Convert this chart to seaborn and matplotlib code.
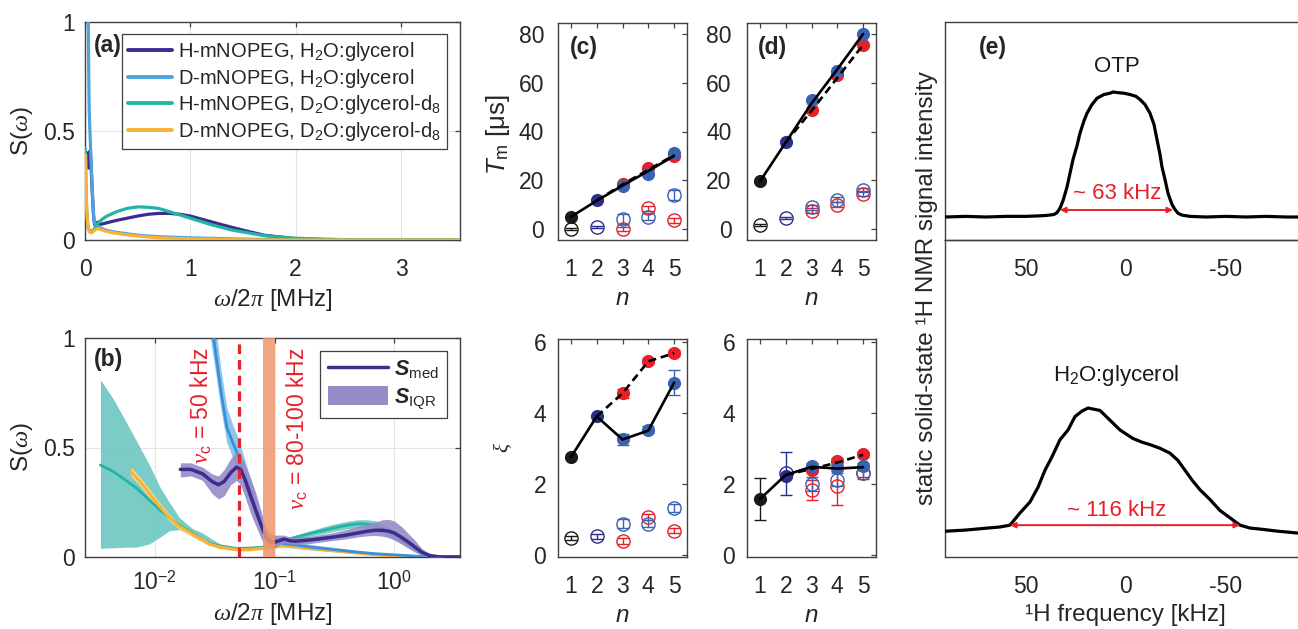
import matplotlib
matplotlib.use("Agg")
import matplotlib.pyplot as plt
import seaborn as sns
from matplotlib.lines import Line2D
from matplotlib.patches import Patch
from matplotlib.ticker import MultipleLocator, NullLocator

# ---------------- data ----------------
# (a)/(b): spectral densities S(w), frequency in MHz
f_hh = [0.0163, 0.02, 0.025, 0.03, 0.034, 0.038, 0.043, 0.048, 0.052, 0.057, 0.063, 0.07, 0.078,
        0.085, 0.092, 0.1, 0.11, 0.12, 0.135, 0.15, 0.2, 0.3, 0.4, 0.5, 0.6, 0.7, 0.8, 0.9, 1.0,
        1.15, 1.3, 1.5, 1.7, 2.0, 2.3, 2.7, 3.56]
s_hh = [0.40, 0.40, 0.38, 0.345, 0.33, 0.345, 0.385, 0.41, 0.40, 0.35, 0.28, 0.21, 0.14,
        0.09, 0.07, 0.068, 0.075, 0.082, 0.074, 0.072, 0.078, 0.09, 0.10, 0.11, 0.118, 0.122, 0.122, 0.118, 0.11,
        0.09, 0.07, 0.045, 0.022, 0.006, 0.001, 0.0, 0.0]
s_hh_lo = [0.365, 0.37, 0.35, 0.29, 0.265, 0.28, 0.33, 0.35, 0.33, 0.27, 0.20, 0.14, 0.08,
           0.05, 0.04, 0.04, 0.055, 0.065, 0.06, 0.058, 0.062, 0.075, 0.083, 0.092, 0.097, 0.098, 0.095, 0.088, 0.078,
           0.06, 0.042, 0.022, 0.008, 0.001, 0.0, 0.0, 0.0]
s_hh_hi = [0.43, 0.43, 0.41, 0.38, 0.37, 0.40, 0.45, 0.48, 0.47, 0.42, 0.36, 0.29, 0.20,
           0.13, 0.11, 0.10, 0.10, 0.10, 0.09, 0.09, 0.095, 0.11, 0.125, 0.14, 0.15, 0.16, 0.17, 0.172, 0.165,
           0.14, 0.11, 0.075, 0.04, 0.012, 0.003, 0.0, 0.0]

f_dh = [0.02, 0.025, 0.031, 0.036, 0.04, 0.045, 0.05, 0.056, 0.062, 0.067, 0.074, 0.081, 0.09, 0.1,
        0.12, 0.15, 0.2, 0.3, 0.5, 0.7, 1.0, 1.5, 2.0, 2.5, 3.56]
s_dh = [1.9, 1.35, 1.0, 0.74, 0.59, 0.52, 0.46, 0.38, 0.31, 0.26, 0.18, 0.11, 0.08, 0.07,
        0.06, 0.055, 0.045, 0.035, 0.022, 0.015, 0.01, 0.004, 0.001, 0.0, 0.0]
s_dh_lo = [1.75, 1.22, 0.9, 0.66, 0.52, 0.45, 0.39, 0.32, 0.26, 0.21, 0.14, 0.08, 0.055, 0.05,
           0.045, 0.04, 0.032, 0.025, 0.015, 0.01, 0.006, 0.002, 0.0, 0.0, 0.0]
s_dh_hi = [2.05, 1.5, 1.12, 0.84, 0.68, 0.6, 0.54, 0.45, 0.37, 0.31, 0.22, 0.14, 0.105, 0.09,
           0.08, 0.07, 0.058, 0.045, 0.03, 0.02, 0.014, 0.006, 0.002, 0.0, 0.0]

f_hd = [0.0035, 0.0045, 0.0057, 0.007, 0.009, 0.011, 0.0132, 0.016, 0.0206, 0.025, 0.0284, 0.035,
        0.047, 0.06, 0.08, 0.1, 0.12, 0.15, 0.2, 0.3, 0.4, 0.5, 0.6, 0.7, 0.8, 1.0, 1.2, 1.4,
        1.7, 2.0, 2.5, 3.56]
s_hd = [0.42, 0.39, 0.35, 0.315, 0.26, 0.215, 0.18, 0.145, 0.11, 0.08, 0.064, 0.05,
        0.04, 0.04, 0.045, 0.06, 0.075, 0.09, 0.108, 0.13, 0.145, 0.152, 0.15, 0.145, 0.13, 0.1, 0.07, 0.045,
        0.02, 0.008, 0.001, 0.0]
s_hd_lo = [0.04, 0.042, 0.045, 0.045, 0.06, 0.09, 0.12, 0.125, 0.095, 0.068, 0.055, 0.044,
           0.035, 0.035, 0.04, 0.052, 0.065, 0.08, 0.095, 0.115, 0.128, 0.134, 0.13, 0.123, 0.108, 0.08, 0.055, 0.033,
           0.013, 0.004, 0.0, 0.0]
s_hd_hi = [0.81, 0.72, 0.62, 0.53, 0.42, 0.32, 0.25, 0.18, 0.13, 0.11, 0.09, 0.06,
           0.046, 0.046, 0.052, 0.068, 0.085, 0.1, 0.12, 0.148, 0.162, 0.17, 0.17, 0.165, 0.15, 0.12, 0.085, 0.058,
           0.028, 0.012, 0.002, 0.0]

f_dd = [0.0063, 0.0075, 0.009, 0.011, 0.0132, 0.016, 0.0206, 0.025, 0.0284, 0.035, 0.047, 0.06, 0.08,
        0.1, 0.12, 0.15, 0.2, 0.3, 0.5, 0.7, 1.0, 1.5, 2.0, 3.56]
s_dd = [0.39, 0.345, 0.29, 0.23, 0.18, 0.14, 0.105, 0.078, 0.06, 0.045, 0.035, 0.033, 0.04,
        0.048, 0.052, 0.048, 0.04, 0.03, 0.018, 0.01, 0.005, 0.001, 0.0, 0.0]
s_dd_lo = [0.37, 0.325, 0.27, 0.213, 0.165, 0.127, 0.093, 0.068, 0.051, 0.037, 0.028, 0.027, 0.033,
           0.04, 0.044, 0.04, 0.033, 0.024, 0.013, 0.006, 0.002, 0.0, 0.0, 0.0]
s_dd_hi = [0.41, 0.365, 0.31, 0.247, 0.195, 0.153, 0.117, 0.088, 0.069, 0.053, 0.042, 0.039, 0.047,
           0.056, 0.06, 0.056, 0.047, 0.036, 0.023, 0.014, 0.008, 0.003, 0.001, 0.0]

legend_a = ["H-mNOPEG, H$_2$O:glycerol", "D-mNOPEG, H$_2$O:glycerol",
            "H-mNOPEG, D$_2$O:glycerol-d$_8$", "D-mNOPEG, D$_2$O:glycerol-d$_8$"]

nu_c_line = 0.05          # MHz
nu_c_band = [0.08, 0.1]   # MHz

# (c)/(d): n = 1 (black), n = 2 (navy), n = 3..5 (red / blue)
n_all = [1, 2, 3, 4, 5]
n_rb = [3, 4, 5]
n_dash = [2, 3, 4, 5]

# Tm [us], panel (c)
tmc_fill = {"black": 5.0, "navy": 12.0}
tmc_fill_red = [18.5, 25.0, 30.0]
tmc_fill_blue = [17.5, 22.5, 31.0]
tmc_open = {"black": (0.0, 0.5), "navy": (1.0, 0.4)}
tmc_open_red = [0.0, 8.5, 3.5]
tmc_open_red_err = [0.7, 1.0, 1.0]
tmc_open_blue = [4.0, 5.0, 14.0]
tmc_open_blue_err = [2.0, 1.5, 2.0]
tmc_solid = [5.0, 11.6, 17.8, 23.8, 30.0]
tmc_dashed = [11.6, 18.3, 24.3, 30.3]

# Tm [us], panel (d)
tmd_fill = {"black": 19.5, "navy": 35.5}
tmd_fill_red = [49.0, 63.0, 75.5]
tmd_fill_blue = [53.0, 65.0, 80.0]
tmd_open = {"black": (1.5, 0.4), "navy": (4.5, 0.5)}
tmd_open_red = [7.5, 10.0, 14.5]
tmd_open_red_err = [1.0, 1.0, 1.0]
tmd_open_blue = [9.0, 12.0, 16.0]
tmd_open_blue_err = [1.0, 1.0, 1.0]
tmd_solid = [19.5, 35.5, 51.5, 65.5, 80.0]
tmd_dashed = [35.5, 48.5, 62.0, 75.5]

# xi, panel (c)
xic_fill = {"black": 2.75, "navy": 3.9}
xic_fill_red = [4.55, 5.45, 5.68]
xic_fill_red_err = [0.12, 0.08, 0.08]
xic_fill_blue = [3.25, 3.52, 4.85]
xic_fill_blue_err = [0.15, 0.1, 0.35]
xic_open = {"black": (0.48, 0.06), "navy": (0.52, 0.06)}
xic_open_red = [0.4, 1.07, 0.68]
xic_open_red_err = [0.08, 0.08, 0.07]
xic_open_blue = [0.88, 0.88, 1.32]
xic_open_blue_err = [0.12, 0.1, 0.1]
xic_solid = [2.75, 3.9, 3.25, 3.5, 4.85]
xic_dashed = [3.9, 4.55, 5.45, 5.68]

# xi, panel (d)
xid_fill = {"black": 1.57, "navy": 2.22}
xid_fill_err = {"black": 0.6, "navy": 0.05}
xid_fill_red = [2.4, 2.65, 2.83]
xid_fill_red_err = [0.08, 0.08, 0.08]
xid_fill_blue = [2.5, 2.45, 2.5]
xid_fill_blue_err = [0.08, 0.08, 0.1]
xid_open = {"navy": (2.3, 0.6)}
xid_open_red = [1.82, 1.95, 2.3]
xid_open_red_err = [0.28, 0.55, 0.1]
xid_open_blue = [2.0, 2.12, 2.3]
xid_open_blue_err = [0.2, 0.18, 0.15]
xid_solid = [1.57, 2.25, 2.48, 2.43, 2.47]
xid_dashed = [2.25, 2.42, 2.6, 2.82]

# (e): 1H NMR spectra, frequency in kHz, intensity normalised to peak
otp_f = [90.5, 80, 70, 60, 50, 45, 40, 36, 34.5, 33, 31.5, 29.5, 28, 26.5, 24.5, 23, 21, 19.5, 17,
         14.5, 11, 8, 6.5, 4, 1, -2, -5, -7, -9.5, -12, -14, -15.5, -17, -18, -19.5, -21, -23,
         -24.5, -26, -28, -32, -40, -50, -60, -70, -80, -86]
otp_i = [0.0, 0.005, 0.0, 0.005, 0.005, 0.008, 0.012, 0.02, 0.035, 0.07, 0.13, 0.24, 0.35, 0.46, 0.57,
         0.67, 0.77, 0.83, 0.90, 0.95, 0.98, 0.99, 1.0, 0.995, 0.99, 0.98, 0.965, 0.94, 0.9, 0.83,
         0.74, 0.62, 0.5, 0.4, 0.3, 0.19, 0.1, 0.06, 0.03, 0.015, 0.005, 0.0, 0.005, 0.0, 0.005, 0.0, 0.0]
gly_f = [90.5, 80, 70, 63, 58, 53, 48, 44, 40.5, 37, 33, 29, 25.5, 22, 19, 16, 13, 8, 3, -3.5, -8,
         -12, -17, -22, -26, -29.5, -33, -37, -42, -47, -52, -57, -62, -67, -75, -86]
gly_i = [-0.01, 0.0, 0.015, 0.025, 0.04, 0.14, 0.23, 0.35, 0.49, 0.6, 0.74, 0.82, 0.93, 0.975, 1.0,
         0.99, 0.98, 0.9, 0.82, 0.75, 0.72, 0.70, 0.67, 0.63, 0.57, 0.49, 0.41, 0.33, 0.25, 0.16,
         0.1, 0.04, 0.016, 0.008, -0.008, -0.025]
otp_arrow = [33.0, -23.5]
gly_arrow = [58.0, -57.0]

# ---------------- style ----------------
sns.set_theme(style="white")
plt.rcParams["font.family"] = ["Liberation Sans", "DejaVu Sans"]
plt.rcParams["axes.unicode_minus"] = False
plt.rcParams["mathtext.fontset"] = "custom"
plt.rcParams["mathtext.rm"] = "Liberation Sans"
plt.rcParams["mathtext.sf"] = "Liberation Sans"
plt.rcParams["mathtext.it"] = "Liberation Serif:italic"
plt.rcParams["mathtext.bf"] = "Liberation Sans:italic:bold"
plt.rcParams["mathtext.cal"] = "Liberation Sans:italic"

C_HH, C_DH, C_HD, C_DD = "#3B2C8E", "#4DA3E0", "#22B5A5", "#F9B334"
RED, BLUE, NAVY, BLACK = "#E62129", "#3A62B2", "#2B2D8C", "#1A1A1A"
SPINE = "#404040"
TXT = "#262626"
TICK = 16.5
LAB = 17.5

W, H = 1298, 629
fig = plt.figure(figsize=(W / 100, H / 100), dpi=100)


def pos(l, r, t, b):
    return [l / W, 1 - b / H, (r - l) / W, (b - t) / H]


def style(ax, ypad=7, xpad=13):
    for s in ax.spines.values():
        s.set_color(SPINE)
        s.set_linewidth(1.0)
    ax.tick_params(direction="in", length=3.6, width=0.9, colors=SPINE, labelcolor=TXT,
                   labelsize=TICK, top=True, right=True)
    ax.tick_params(axis="y", pad=ypad)
    ax.tick_params(axis="x", pad=xpad)


def line(ax, x, y, color, lw, dashed=False, z=3):
    sns.lineplot(x=x, y=y, ax=ax, color=color, lw=lw, estimator=None, sort=False,
                 legend=False, zorder=z)
    ln = ax.lines[-1]
    if dashed:
        ln.set_dashes((3.0, 1.8))
    return ln


# ---------------- (a) ----------------
axa = fig.add_axes(pos(85, 460, 22, 240))
style(axa)
axa.grid(True, color="#E4E4E4", lw=0.8)
axa.set_axisbelow(True)
for f, s, c in [(f_hh, s_hh, C_HH), (f_dh, s_dh, C_DH), (f_hd, s_hd, C_HD), (f_dd, s_dd, C_DD)]:
    line(axa, f, s, c, 2.3)
axa.set_xlim(0, 3.56)
axa.set_ylim(0, 1)
axa.set_xticks([0, 1, 2, 3])
axa.set_yticks([0, 0.5, 1])
axa.set_yticklabels(["0", "0.5", "1"])
axa.set_xlabel(r"$\omega/2\pi$ [MHz]", fontsize=LAB, color=TXT, va="top")
axa.xaxis.set_label_coords(0.5, -0.215)
axa.set_ylabel(r"S($\omega$)", fontsize=LAB, color=TXT)
axa.yaxis.set_label_coords(-0.133, 0.5)
handles = [Line2D([], [], color=c, lw=2.8) for c in [C_HH, C_DH, C_HD, C_DD]]
leg = axa.legend(handles, legend_a, loc="upper right", bbox_to_anchor=(0.965, 0.945),
                 borderaxespad=0, fontsize=14.5, frameon=True, fancybox=False, framealpha=1,
                 edgecolor=SPINE, handlelength=2.2, handletextpad=0.3, labelspacing=0.18,
                 borderpad=0.3)
leg.get_frame().set_linewidth(0.9)
for t in leg.get_texts():
    t.set_color(TXT)
axa.text(0.024, 0.894, "(a)", transform=axa.transAxes, fontsize=16.5, fontweight="bold",
         ha="left", va="center", color=TXT)

# ---------------- (b) ----------------
axb = fig.add_axes(pos(85, 460, 338, 557))
style(axb, xpad=10)
axb.set_xscale("log")
axb.grid(True, color="#E4E4E4", lw=0.8)
axb.set_axisbelow(True)
axb.fill_between(f_hd, s_hd_lo, s_hd_hi, color="#74C9C3", alpha=0.95, lw=0, zorder=2)
line(axb, f_hd, s_hd, C_HD, 2.0)
axb.fill_between(f_dd, s_dd_lo, s_dd_hi, color="#FCDC92", lw=0, zorder=2)
line(axb, f_dd, s_dd, C_DD, 2.2)
axb.fill_between(f_dh, s_dh_lo, s_dh_hi, color="#8CC6EE", lw=0, zorder=2)
line(axb, f_dh, s_dh, "#3C8FD4", 2.0)
axb.fill_between(f_hh, s_hh_lo, s_hh_hi, color="#968CC8", alpha=0.9, lw=0, zorder=3)
line(axb, f_hh, s_hh, C_HH, 2.5, z=4)
axb.axvline(nu_c_line, color=RED, lw=2.3, dashes=(3.0, 1.9), zorder=5)
axb.axvspan(nu_c_band[0], nu_c_band[1], color="#F2956B", alpha=0.85, lw=0, zorder=5)
axb.set_xlim(0.0026, 3.56)
axb.set_ylim(0, 1)
axb.set_xticks([0.01, 0.1, 1])
axb.set_xticklabels([r"$10^{-2}$", r"$10^{-1}$", r"$10^{0}$"])
axb.xaxis.set_minor_locator(NullLocator())
axb.set_yticks([0, 0.5, 1])
axb.set_yticklabels(["0", "0.5", "1"])
axb.set_xlabel(r"$\omega/2\pi$ [MHz]", fontsize=LAB, color=TXT, va="top")
axb.xaxis.set_label_coords(0.5, -0.2)
axb.set_ylabel(r"S($\omega$)", fontsize=LAB, color=TXT)
axb.yaxis.set_label_coords(-0.133, 0.5)
axb.text(0.0245, 0.69, r"$\nu_\mathsf{c}$ = 50 kHz", rotation=90, color=RED, fontsize=16.5,
         ha="center", va="center", zorder=6)
axb.text(0.156, 0.585, r"$\nu_\mathsf{c}$ = 80-100 kHz", rotation=90, color=RED, fontsize=16.5,
         ha="center", va="center", zorder=6)
hb = [Line2D([], [], color=C_HH, lw=2.5), Patch(facecolor="#968CC8", edgecolor="none")]
legb = axb.legend(hb, [r"$\mathbf{S}_{\mathrm{med}}$", r"$\mathbf{S}_{\mathrm{IQR}}$"],
                  loc="upper right", bbox_to_anchor=(0.965, 0.941), borderaxespad=0,
                  fontsize=15.5, frameon=True, fancybox=False, framealpha=1, edgecolor=SPINE,
                  handlelength=2.8, handleheight=1.0, handletextpad=0.3, labelspacing=0.25,
                  borderpad=0.35)
legb.get_frame().set_linewidth(0.9)
legb.set_zorder(10)
axb.text(0.024, 0.90, "(b)", transform=axb.transAxes, fontsize=16.5, fontweight="bold",
         ha="left", va="center", color=TXT)


# ---------------- (c)/(d) ----------------
def dots(ax, fill, fill_red, fill_blue, opn, open_red, open_red_err, open_blue, open_blue_err,
         solid, dashed, fill_err=None, fill_red_err=None, fill_blue_err=None):
    ms = 9.5
    cap = 4.3
    for key, col, x in [("black", BLACK, 1), ("navy", NAVY, 2)]:
        if key in opn:
            y, e = opn[key]
            ax.errorbar([x], [y], yerr=[e], fmt="o", mfc="none", mec=col, ms=ms, mew=1.0,
                        ecolor=col, elinewidth=1.0, capsize=cap, capthick=1.0, zorder=3)
    ax.errorbar(n_rb, open_red, yerr=open_red_err, fmt="o", mfc="none", mec=RED, ms=ms, mew=1.0,
                ecolor=RED, elinewidth=1.0, capsize=cap, capthick=1.0, zorder=3)
    ax.errorbar(n_rb, open_blue, yerr=open_blue_err, fmt="o", mfc="none", mec=BLUE, ms=ms, mew=1.0,
                ecolor=BLUE, elinewidth=1.0, capsize=cap, capthick=1.0, zorder=3)
    if fill_red_err is not None:
        ax.errorbar(n_rb, fill_red, yerr=fill_red_err, fmt="none", ecolor=RED, elinewidth=1.0,
                    capsize=cap, capthick=1.0, zorder=4)
    sns.scatterplot(x=n_rb, y=fill_red, ax=ax, color=RED, s=90, linewidth=0, zorder=4, legend=False)
    if fill_blue_err is not None:
        ax.errorbar(n_rb, fill_blue, yerr=fill_blue_err, fmt="none", ecolor=BLUE, elinewidth=1.0,
                    capsize=cap, capthick=1.0, zorder=5)
    sns.scatterplot(x=n_rb, y=fill_blue, ax=ax, color=BLUE, s=90, linewidth=0, zorder=5, legend=False)
    for key, col, x in [("black", BLACK, 1), ("navy", NAVY, 2)]:
        if fill_err is not None and key in fill_err:
            ax.errorbar([x], [fill[key]], yerr=[fill_err[key]], fmt="none", ecolor=col,
                        elinewidth=1.0, capsize=cap, capthick=1.0, zorder=5)
        sns.scatterplot(x=[x], y=[fill[key]], ax=ax, color=col, s=90, linewidth=0, zorder=5,
                        legend=False)
    line(ax, n_all, solid, "black", 1.9, z=6)
    line(ax, n_dash, dashed, "black", 1.9, dashed=True, z=6)
    ax.set_xlim(0.5, 5.5)
    ax.set_xticks(n_all)
    ax.set_xlabel("n", fontsize=LAB, style="italic", color=TXT, va="top")


axc1 = fig.add_axes(pos(558, 687, 23, 240))
style(axc1, ypad=10)
dots(axc1, tmc_fill, tmc_fill_red, tmc_fill_blue, tmc_open, tmc_open_red, tmc_open_red_err,
     tmc_open_blue, tmc_open_blue_err, tmc_solid, tmc_dashed)
axc1.set_ylim(-4.5, 84.5)
axc1.set_yticks([0, 20, 40, 60, 80])
axc1.xaxis.set_label_coords(0.5, -0.215)
axc1.set_ylabel(r"$\mathcal{T}_{\mathrm{m}}$ [μs]", fontsize=LAB + 1, color=TXT)
axc1.yaxis.set_label_coords(-0.36, 0.484)
axc1.text(0.093, 0.889, "(c)", transform=axc1.transAxes, fontsize=16.5, fontweight="bold",
          ha="left", va="center", color=TXT)

axd1 = fig.add_axes(pos(747, 876, 23, 240))
style(axd1, ypad=11)
dots(axd1, tmd_fill, tmd_fill_red, tmd_fill_blue, tmd_open, tmd_open_red, tmd_open_red_err,
     tmd_open_blue, tmd_open_blue_err, tmd_solid, tmd_dashed)
axd1.set_ylim(-4.5, 84.5)
axd1.set_yticks([0, 20, 40, 60, 80])
axd1.xaxis.set_label_coords(0.5, -0.215)
axd1.text(0.085, 0.889, "(d)", transform=axd1.transAxes, fontsize=16.5, fontweight="bold",
          ha="left", va="center", color=TXT)

axc2 = fig.add_axes(pos(558, 687, 339, 557))
style(axc2, ypad=8.5)
dots(axc2, xic_fill, xic_fill_red, xic_fill_blue, xic_open, xic_open_red, xic_open_red_err,
     xic_open_blue, xic_open_blue_err, xic_solid, xic_dashed,
     fill_red_err=xic_fill_red_err, fill_blue_err=xic_fill_blue_err)
axc2.set_ylim(-0.06, 6.08)
axc2.set_yticks([0, 2, 4, 6])
axc2.xaxis.set_label_coords(0.5, -0.215)
axc2.set_ylabel(r"$\xi$", fontsize=15, color=TXT)
axc2.yaxis.set_label_coords(-0.34, 0.5)

axd2 = fig.add_axes(pos(747, 876, 339, 557))
style(axd2, ypad=8.5)
dots(axd2, xid_fill, xid_fill_red, xid_fill_blue, xid_open, xid_open_red, xid_open_red_err,
     xid_open_blue, xid_open_blue_err, xid_solid, xid_dashed, fill_err=xid_fill_err,
     fill_red_err=xid_fill_red_err, fill_blue_err=xid_fill_blue_err)
axd2.set_ylim(-0.06, 6.08)
axd2.set_yticks([0, 2, 4, 6])
axd2.xaxis.set_label_coords(0.5, -0.215)

# ---------------- (e) ----------------
axe2 = fig.add_axes(pos(945, 1298, 240, 557))
axe1 = fig.add_axes(pos(945, 1298, 22, 240))
for ax, f, i, ylim in [(axe1, otp_f, otp_i, (-0.184, 1.56)), (axe2, gly_f, gly_i, (-0.221, 2.377))]:
    ax.patch.set_alpha(0)
    for s in ax.spines.values():
        s.set_color(SPINE)
        s.set_linewidth(1.0)
    ax.spines["right"].set_visible(False)
    line(ax, f, i, "black", 2.3)
    ax.set_xlim(90.5, -86)
    ax.set_ylim(*ylim)
    ax.set_xticks([50, 0, -50])
    ax.xaxis.set_minor_locator(MultipleLocator(10))
    ax.tick_params(axis="x", which="major", direction="in", length=4.5, width=0.9, colors=SPINE,
                   labelcolor=TXT, labelsize=TICK, pad=13, top=False)
    ax.tick_params(axis="x", which="minor", direction="in", length=3.0, width=0.9, colors=SPINE,
                   top=False)
    ax.tick_params(axis="y", left=False, right=False, labelleft=False)

axe1.annotate("", xy=(otp_arrow[0], 0.056), xytext=(otp_arrow[1], 0.056),
              arrowprops=dict(arrowstyle="<|-|>", color=RED, lw=1.4, mutation_scale=8,
                              shrinkA=0, shrinkB=0))
axe1.text(4.5, 0.19, "~ 63 kHz", color=RED, fontsize=16, ha="center", va="center")
axe1.text(4.5, 1.2, "OTP", color=BLACK, fontsize=16, ha="center", va="center")
axe1.text(0.096, 0.885, "(e)", transform=axe1.transAxes, fontsize=16.5, fontweight="bold",
          ha="left", va="center", color=TXT)
axe2.annotate("", xy=(gly_arrow[0], 0.04), xytext=(gly_arrow[1], 0.04),
              arrowprops=dict(arrowstyle="<|-|>", color=RED, lw=1.4, mutation_scale=8,
                              shrinkA=0, shrinkB=0))
axe2.text(4.5, 0.16, "~ 116 kHz", color=RED, fontsize=16, ha="center", va="center")
axe2.text(5.0, 1.27, "H$_2$O:glycerol", color=BLACK, fontsize=16, ha="center", va="center")
axe2.set_xlabel("¹H frequency [kHz]", fontsize=LAB, color=TXT, va="top")
axe2.xaxis.set_label_coords(0.51, -0.148)
fig.text(927 / W, 1 - 288 / H, "static solid-state ¹H NMR signal intensity", rotation=90,
         fontsize=17.5, color=TXT, ha="center", va="center")

fig.savefig("out.png", dpi=100)
